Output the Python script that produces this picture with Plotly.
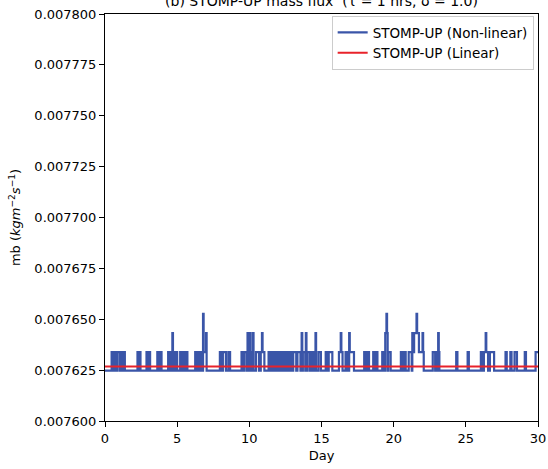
import numpy as np
import plotly.graph_objects as go

# ---- data ----
hours_total = 720                      # 30 days, hourly
base_flux = 0.0076248                  # baseline of the non-linear run
level_flux = [0.0076248, 0.0076338, 0.0076432, 0.0076526]  # level 0..3
linear_flux = 0.0076268                # linear run (constant)

# elevated episodes of the non-linear run: start hour, end hour, level index
seg_start = [11, 15, 21, 27, 31, 54, 58, 69, 73, 87, 92, 105, 109, 112, 115, 119,
             125, 129, 134, 150, 155, 160, 163, 164, 168, 191, 196, 205, 227, 232,
             237, 240, 243, 246, 251, 259, 261, 262, 272, 277, 283, 288, 292, 297,
             301, 307, 313, 320, 327, 329, 334, 336, 343, 348, 350, 355,
             367, 372, 389, 392, 393, 400, 406, 407, 431, 436, 446, 450, 461, 466,
             468, 469, 471, 492, 497, 505, 511, 513, 514, 518, 519, 522, 528, 529,
             545, 551, 554, 555, 584, 603, 625, 630, 633, 634, 640, 666, 674, 681,
             698, 716]
seg_end = [14, 18, 25, 30, 33, 56, 59, 71, 75, 89, 94, 107, 111, 113, 117, 120,
           127, 132, 137, 152, 158, 162, 164, 168, 169, 193, 201, 208, 230, 236,
           239, 242, 245, 247, 256, 261, 262, 265, 275, 280, 286, 290, 294, 299,
           304, 310, 318, 325, 328, 333, 335, 340, 346, 350, 351, 359,
           370, 378, 392, 393, 395, 403, 407, 414, 433, 439, 448, 453, 464, 468,
           469, 470, 475, 495, 500, 510, 513, 514, 518, 519, 522, 528, 529, 530,
           549, 553, 555, 556, 586, 605, 628, 633, 634, 637, 647, 668, 676, 685,
           700, 720]
seg_level = [1, 1, 1, 1, 1, 1, 1, 1, 1, 1, 1, 1, 1, 2, 1, 1,
             1, 1, 1, 1, 1, 1, 3, 1, 2, 1, 1, 1, 1, 1,
             2, 2, 1, 2, 1, 1, 2, 1, 1, 1, 1, 1, 1, 1,
             1, 1, 1, 1, 2, 1, 2, 1, 1, 1, 2, 1,
             1, 1, 1, 2, 1, 1, 2, 1, 1, 1, 1, 1, 1, 2,
             3, 2, 1, 1, 1, 1, 2, 1, 2, 3, 2, 1, 2, 1,
             1, 1, 2, 1, 1, 1, 1, 1, 2, 1, 1, 1, 1, 1,
             1, 1]

x_ticks = [0, 5, 10, 15, 20, 25, 30]
y_ticks = [0.007600, 0.007625, 0.007650, 0.007675, 0.007700, 0.007725, 0.007750, 0.007775, 0.007800]

# ---- build hourly step series ----
hours = np.arange(hours_total + 1)
days = hours / 24.0
nonlin = np.full(hours_total + 1, base_flux)
for s, e, lv in zip(seg_start, seg_end, seg_level):
    nonlin[s:e] = level_flux[lv]
nonlin[-1] = nonlin[-2]
lin = np.full(hours_total + 1, linear_flux)

fig = go.Figure()
fig.add_trace(go.Scatter(x=days, y=nonlin, mode="lines", line_shape="hv",
                         line=dict(color="#3a55a8", width=2.2),
                         name="STOMP-UP (Non-linear)"))
fig.add_trace(go.Scatter(x=days, y=lin, mode="lines",
                         line=dict(color="#e8222a", width=2),
                         name="STOMP-UP (Linear)"))

axis_font = dict(family="DejaVu Sans", size=13, color="black")
fig.update_layout(
    width=548, height=469,
    margin=dict(l=105, r=10, t=14, b=48, autoexpand=False),
    paper_bgcolor="white", plot_bgcolor="white",
    font=axis_font,
    title=dict(text="(b) STOMP-UP mass flux  (τ = 1 hrs, δ = 1.0)",
               x=(105 + 538) / 2 / 548, xanchor="center",
               y=1 - 6 / 469, yref="container", yanchor="bottom",
               automargin=False,
               font=dict(family="DejaVu Sans", size=14, color="black")),
    showlegend=True,
    legend=dict(x=0.99, y=0.995, xanchor="right", yanchor="top",
                bgcolor="rgba(255,255,255,0.9)", bordercolor="#cccccc", borderwidth=1,
                font=dict(family="DejaVu Sans", size=13.5, color="black"),
                tracegroupgap=0),
)
fig.update_xaxes(range=[0, 30], tickmode="array", tickvals=x_ticks,
                 ticktext=[str(t) for t in x_ticks], automargin=False,
                 showgrid=False, zeroline=False, showline=True, linecolor="black",
                 linewidth=1, mirror=True, ticks="outside", ticklen=5,
                 tickcolor="black",
                 title=dict(text="Day", font=axis_font, standoff=6))
fig.update_yaxes(range=[0.0076, 0.0078], tickmode="array", tickvals=y_ticks,
                 ticktext=[f"{t:.6f}" for t in y_ticks], automargin=False,
                 showgrid=False, zeroline=False, showline=True, linecolor="black",
                 linewidth=1, mirror=True, ticks="outside", ticklen=5,
                 tickcolor="black",
                 title=dict(text="mb (<i>kgm</i><sup>−2</sup><i>s</i><sup>−1</sup>)",
                            font=axis_font, standoff=10))

fig.write_html("out.html")
